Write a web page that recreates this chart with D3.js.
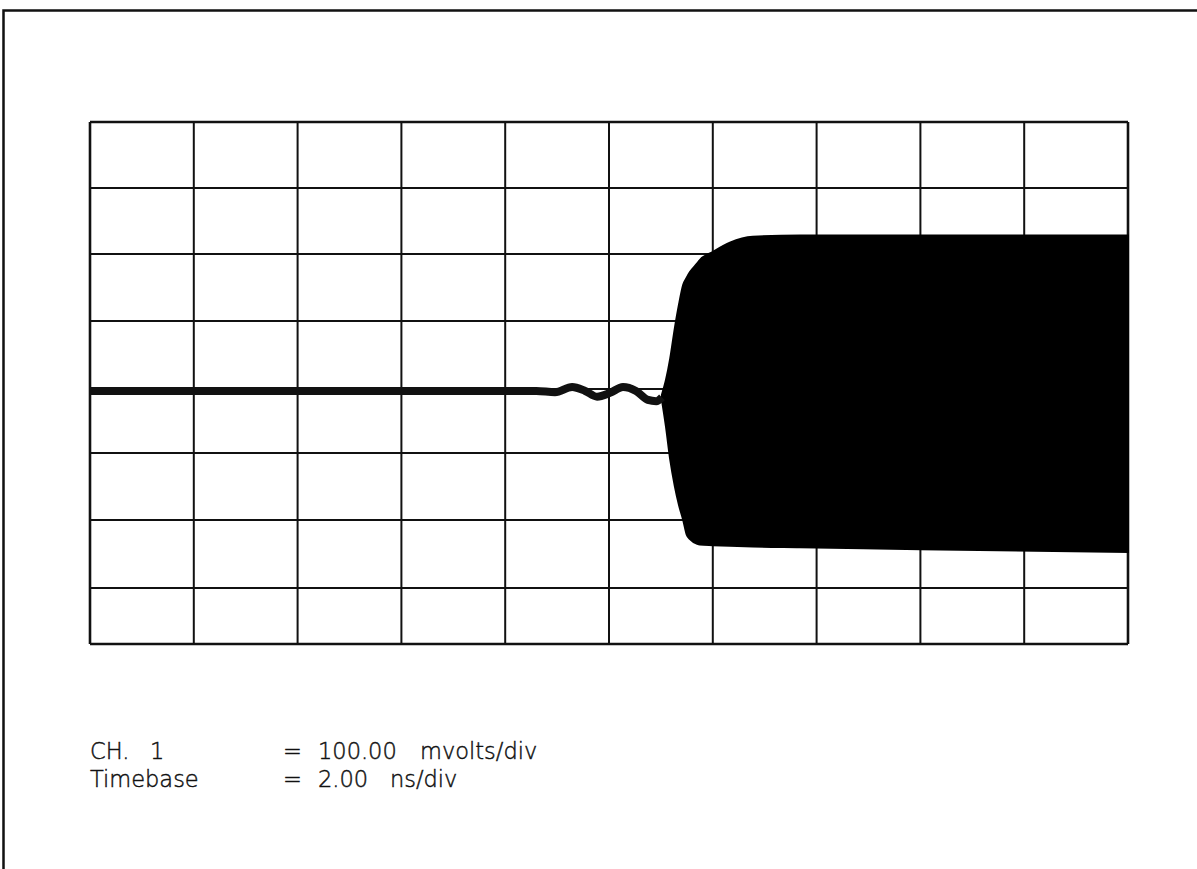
<!DOCTYPE html>
<html><head><meta charset="utf-8">
<script src="https://cdn.jsdelivr.net/npm/d3@7"></script>
<style>
html,body{margin:0;padding:0;background:#fff;}
svg{display:block;}
text{font-family:"DejaVu Sans","Liberation Sans",Arial,sans-serif;fill:#111;}
</style></head>
<body>
<script>
// ---- data ----
const timeTicks = [0,2,4,6,8,10,12,14,16,18,20];          // ns (2 ns/div)
const voltTicks = [-400,-300,-200,-100,0,100,200,300,400]; // mV (100 mV/div)

// baseline trace before the step (ns, mV)
const traceT = [0, 2, 4, 6, 8, 8.6, 8.96, 9.29, 9.54, 9.77, 10.02, 10.27, 10.52, 10.75, 10.91, 11.02];
const traceV = [-3, -3, -3, -3, -3, -3, -5, 3, -3, -12, -6, 3, -3, -17, -19, -13];

// envelope of the fast signal after the step
const envT     = [11.02, 11.1, 11.18, 11.27, 11.35, 11.43, 11.5, 11.56, 11.7, 11.75, 12.0, 12.33, 12.77, 13.68, 16, 20];
const envUpper = [-9, 14, 45, 90, 125, 154, 165, 173, 186, 191, 203, 217, 226, 228, 228, 228];
const envLower = [-17, -60, -110, -150, -178, -200, -222, -228, -235, -236, -237, -238, -239, -240, -243, -247];

const labelRow1 = ["CH.", "1", "=", "100.00", "mvolts/div"];
const labelRow2 = ["Timebase", "=", "2.00", "ns/div"];

// ---- layout ----
const W = 1197, H = 869;
const svg = d3.select("body").append("svg").attr("width", W).attr("height", H);

const x = d3.scaleLinear().domain([0, 20]).range([90, 1128]);
// screen graticule of the scanned plot is slightly uneven; piecewise scale follows it
const y = d3.scaleLinear().domain(voltTicks).range([644, 588, 520, 453, 389, 321, 254, 188, 122]);

// outer frame
svg.append("path")
  .attr("d", "M3.5,869 L3.5,10.5 L1197,10.5")
  .attr("fill", "none").attr("stroke", "#111").attr("stroke-width", 2.5);

// graticule
const g = svg.append("g");
g.selectAll("line.v").data(timeTicks).join("line")
  .attr("x1", d => x(d)).attr("x2", d => x(d))
  .attr("y1", y(400)).attr("y2", y(-400))
  .attr("stroke", "#111").attr("stroke-width", d => (d === 0 || d === 20) ? 2.6 : 2);
g.selectAll("line.h").data(voltTicks).join("line")
  .attr("x1", x(0)).attr("x2", x(20))
  .attr("y1", d => y(d)).attr("y2", d => y(d))
  .attr("stroke", "#111").attr("stroke-width", d => (d === 400 || d === -400) ? 2.6 : 2);

// envelope
const envData = envT.map((t, i) => ({t, hi: envUpper[i], lo: envLower[i]}));
svg.append("path").datum(envData)
  .attr("d", d3.area().x(d => x(d.t)).y0(d => y(d.lo)).y1(d => y(d.hi)).curve(d3.curveMonotoneX))
  .attr("fill", "#000").attr("stroke", "#000").attr("stroke-width", 2);

// baseline trace
const trData = traceT.map((t, i) => ({t, v: traceV[i]}));
svg.append("path").datum(trData)
  .attr("d", d3.line().x(d => x(d.t)).y(d => y(d.v)).curve(d3.curveMonotoneX))
  .attr("fill", "none").attr("stroke", "#111").attr("stroke-width", 8).attr("stroke-linecap", "butt");

// labels
const row1X = [90, 150, 283, 318, 420];
const row2X = [90, 283, 318, 390];
const t1 = svg.append("g").attr("font-size", 22.5).attr("font-weight", 200)
  .attr("stroke", "#111").attr("stroke-width", 0.45);
t1.selectAll("text.r1").data(labelRow1).join("text").attr("class", "r1")
  .attr("x", (d, i) => row1X[i]).attr("y", 759)
  .text(d => d);
t1.selectAll("text.r2").data(labelRow2).join("text").attr("class", "r2")
  .attr("x", (d, i) => row2X[i]).attr("y", 787)
  .text(d => d);
</script>
</body></html>
